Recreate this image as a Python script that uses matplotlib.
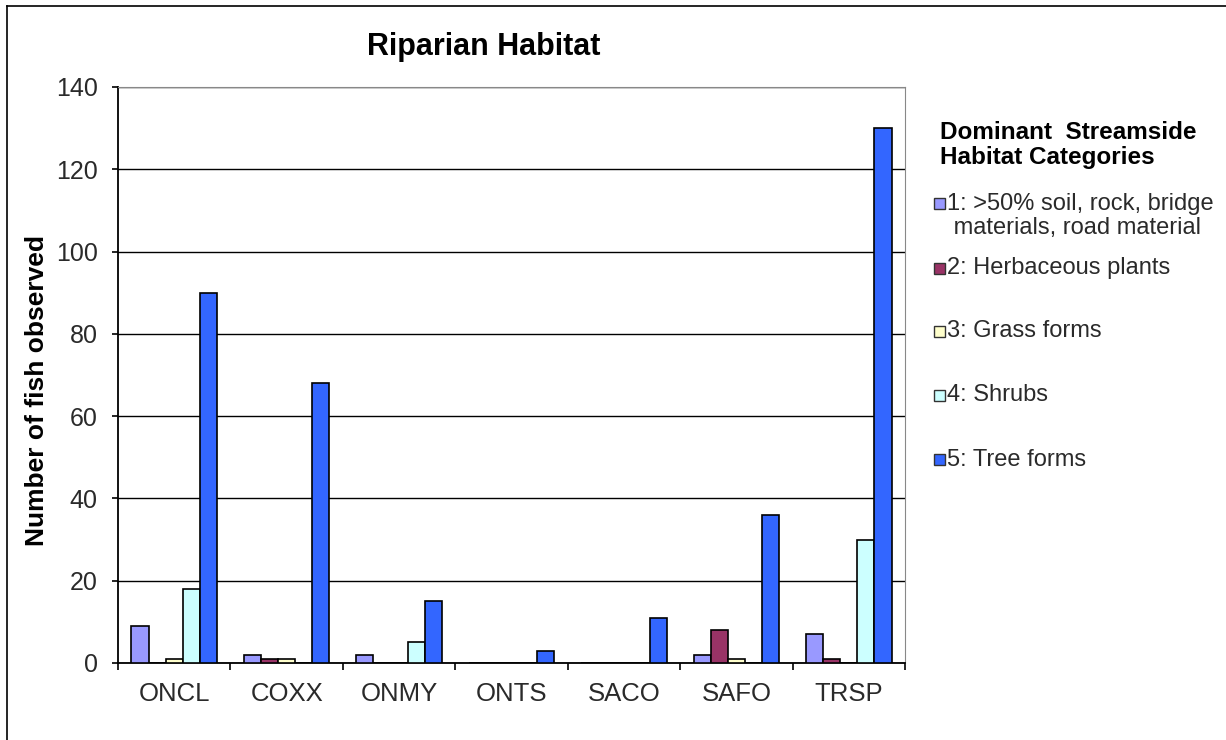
import matplotlib.pyplot as plt
import numpy as np
from matplotlib.lines import Line2D
from matplotlib.patches import Rectangle

plt.rcParams['font.family'] = ['Liberation Sans', 'DejaVu Sans']

species = ['ONCL', 'COXX', 'ONMY', 'ONTS', 'SACO', 'SAFO', 'TRSP']
cat_labels = ['1: >50% soil, rock, bridge\n materials, road material',
              '2: Herbaceous plants',
              '3: Grass forms',
              '4: Shrubs',
              '5: Tree forms']
cat_colors = ['#9999FF', '#993366', '#FFFFCC', '#CCFFFF', '#3366FF']

soil = [9, 2, 2, 0, 0, 2, 7]
herbaceous = [0, 1, 0, 0, 0, 8, 1]
grass = [1, 1, 0, 0, 0, 1, 0]
shrubs = [18, 0, 5, 0, 0, 0, 30]
trees = [90, 68, 15, 3, 11, 36, 130]
series = [soil, herbaceous, grass, shrubs, trees]

W, H = 1226, 740
fig = plt.figure(figsize=(W / 100, H / 100), dpi=100)
ax = fig.add_axes([118 / W, 1 - 663 / H, (905 - 118) / W, (663 - 87) / H])

x = np.arange(len(species))
w = 0.152
for i, vals in enumerate(series):
    ax.bar(x + (i - 2) * w, vals, w, color=cat_colors[i], edgecolor='black',
           linewidth=1.2, zorder=3)

ax.set_xlim(-0.5, len(species) - 0.5)
ax.set_ylim(0, 140)
ax.set_yticks(np.arange(0, 141, 20))
ax.yaxis.grid(True, color='black', linewidth=1.0, zorder=0)
ax.set_xticks(np.arange(-0.5, len(species), 1.0))
ax.set_xticklabels([])
ax.set_xticks(x, minor=True)
ax.set_xticklabels(species, minor=True)
ax.tick_params(axis='x', which='major', length=5, width=1.2, direction='out')
ax.tick_params(axis='x', which='minor', length=0, pad=14, labelsize=18.5, labelcolor='#2a2a2a')
ax.tick_params(axis='y', length=4.5, width=1.2, labelsize=18, labelcolor='#2a2a2a', pad=10)

for s in ['left', 'bottom']:
    ax.spines[s].set_linewidth(1.3)
for s in ['top', 'right']:
    ax.spines[s].set_color('#888888')

fig.text(37 / W, 1 - 390 / H, 'Number of fish observed', fontsize=19, fontweight='bold',
         rotation=90, ha='center', va='center')
fig.text(484 / W, 1 - 47 / H, 'Riparian Habitat', fontsize=22, fontweight='bold',
         ha='center', va='center')

# legend, laid out by hand
fig.text(940 / W, 1 - 145 / H, 'Dominant  Streamside\nHabitat Categories',
         fontsize=17.5, fontweight='bold', ha='left', va='center', linespacing=1.08)
entry_y = [203, 268, 331, 395, 460]
for lab, col, yy in zip(cat_labels, cat_colors, entry_y):
    fig.patches.append(Rectangle((934 / W, 1 - (yy + 5.5) / H), 11 / W, 11 / H,
                                 transform=fig.transFigure, facecolor=col,
                                 edgecolor='#333333', linewidth=1.0))
    if '\n' in lab:
        fig.text(947 / W, 1 - (yy + 13) / H, lab, fontsize=17, ha='left', va='center',
                 color='#2a2a2a', linespacing=1.12)
    else:
        fig.text(947 / W, 1 - yy / H, lab, fontsize=17, ha='left', va='center',
                 color='#2a2a2a')

# outer chart border
fig.add_artist(Line2D([7 / W, 7 / W], [0, 1 - 6 / H], color='black', linewidth=1.2))
fig.add_artist(Line2D([7 / W, 1], [1 - 6 / H, 1 - 6 / H], color='black', linewidth=1.2))

fig.savefig('out.png', dpi=100)
